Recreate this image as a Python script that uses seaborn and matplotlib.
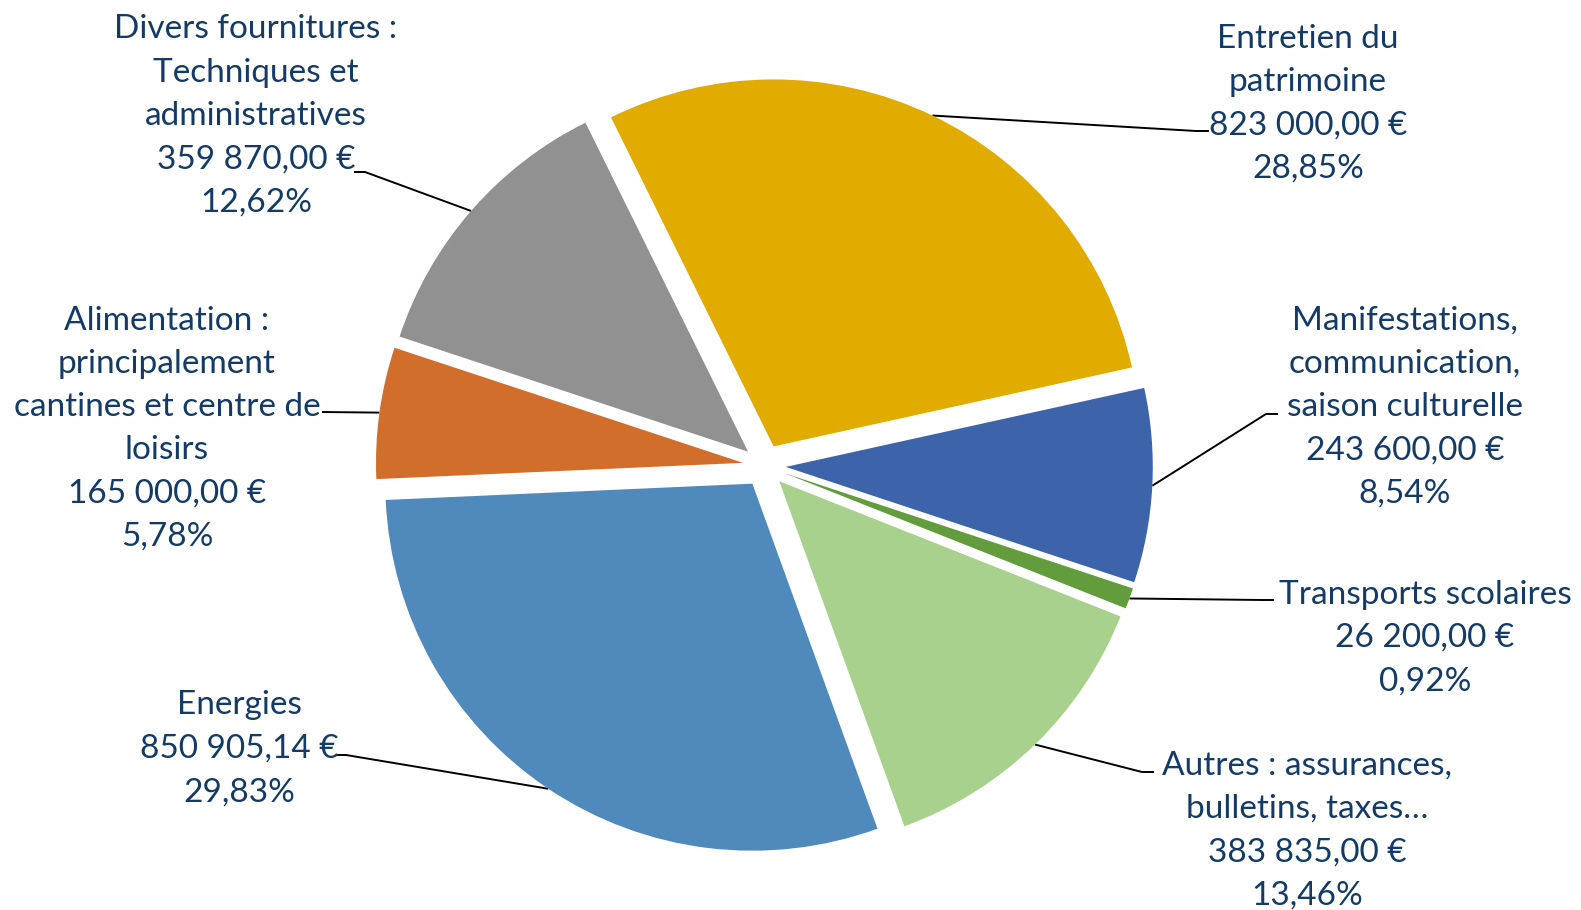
import matplotlib
matplotlib.use("Agg")
import matplotlib.pyplot as plt
import seaborn as sns
import numpy as np

# données du graphique
categories = [
    "Entretien du\npatrimoine",
    "Manifestations,\ncommunication,\nsaison culturelle",
    "Transports scolaires",
    "Autres : assurances,\nbulletins, taxes…",
    "Energies",
    "Alimentation :\nprincipalement\ncantines et centre de\nloisirs",
    "Divers fournitures :\nTechniques et\nadministratives",
]
montants = [823000.00, 243600.00, 26200.00, 383835.00, 850905.14, 165000.00, 359870.00]
couleurs = ["#E2AB00", "#3D63AB", "#629C3D", "#A9D18E", "#5089BB", "#D26E2C", "#919191"]

# position des étiquettes (pixels, y vers le bas) : centre x, y de la 1re ligne
label_x = [1308, 1405, 1425, 1307, 239, 167, 256]
label_y0 = [36.5, 318, 592, 763, 703, 318, 27]
# coude et extrémité des lignes de rappel
coude = [(1196, 131), (1266, 414), (1262, 600), (1142, 772), (346, 755), (322, 412), (365, 172)]
fin = [(1209, 131), (1278, 414), (1274, 600), (1154, 772), (336, 755), (322, 412), (354, 172)]

W, H = 1581, 910
centre = (764.3, 465.8)
rayon = 367
interligne = 43.3
txt_color = "#143A68"


def fmt_euro(v):
    s = f"{v:,.2f}".replace(",", " ").replace(".", ",")
    return s + " €"


def fmt_pct(p):
    return f"{p:.2f}".replace(".", ",") + "%"


sns.set_theme(style="white")
plt.rcParams['font.family'] = ['Lato', 'DejaVu Sans']

fig = plt.figure(figsize=(W / 100, H / 100), dpi=100)
ax = fig.add_axes([0, 0, 1, 1])
ax.set_xlim(0, W)
ax.set_ylim(H, 0)
ax.axis("off")

# axe du camembert : carré de côté 2*rayon
ax_pie = fig.add_axes([(centre[0] - rayon) / W, (H - centre[1] - rayon) / H,
                       2 * rayon / W, 2 * rayon / H])
wedges, _ = ax_pie.pie(montants, colors=couleurs, startangle=116.3, counterclock=False,
                       explode=[0.0586] * len(montants), radius=1,
                       wedgeprops=dict(linewidth=0))
ax_pie.set_xlim(-1, 1)
ax_pie.set_ylim(-1, 1)
ax_pie.axis("off")

total = sum(montants)
to_px = ax_pie.transData + ax.transData.inverted()
for i, w in enumerate(wedges):
    tm = np.deg2rad((w.theta1 + w.theta2) / 2)
    pt = (w.center[0] + w.r * np.cos(tm), w.center[1] + w.r * np.sin(tm))
    ancre = to_px.transform(pt)
    xs = [ancre[0], coude[i][0], fin[i][0]]
    ys = [ancre[1], coude[i][1], fin[i][1]]
    ax.plot(xs, ys, color="black", lw=1.4, solid_capstyle="butt")

    lignes = categories[i].split("\n") + [fmt_euro(montants[i]), fmt_pct(100 * montants[i] / total)]
    for j, l in enumerate(lignes):
        ax.text(label_x[i], label_y0[i] + j * interligne + 11.5, l, ha="center", va="baseline",
                fontsize=24, color=txt_color)

plt.savefig("out.png", dpi=100)
plt.close()
